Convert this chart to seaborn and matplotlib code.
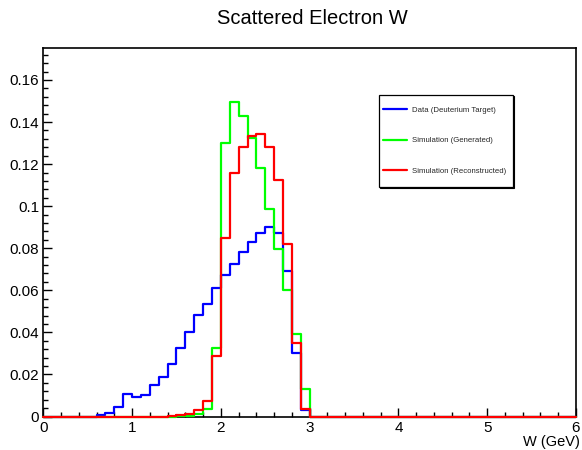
import numpy as np
import pandas as pd
import seaborn as sns
import matplotlib
matplotlib.use("Agg")
import matplotlib.pyplot as plt
from matplotlib.patches import Rectangle
from matplotlib.ticker import MultipleLocator, FixedLocator
import matplotlib.transforms as mtransforms

# ---- data (normalised W distributions, bin width 0.1 GeV) ----
n_bins = 60
w_min, w_max = 0.0, 6.0
bin_width = 0.1

data_first_bin = 6        # W = 0.6 GeV
data_values = [0.0005, 0.0016, 0.0044, 0.0108, 0.0092, 0.0100, 0.0151, 0.0187,
               0.0248, 0.0327, 0.0402, 0.0484, 0.0537, 0.0613, 0.0671, 0.0723,
               0.0780, 0.0828, 0.0874, 0.0900, 0.0874, 0.0690, 0.0302, 0.0032]

gen_first_bin = 15        # W = 1.5 GeV
gen_values = [0.0002, 0.0004, 0.0010, 0.0037, 0.0325, 0.1298, 0.1497, 0.1430,
              0.1322, 0.1183, 0.0988, 0.0794, 0.0603, 0.0390, 0.0129]

rec_first_bin = 14        # W = 1.4 GeV
rec_values = [0.0003, 0.0006, 0.0013, 0.0029, 0.0076, 0.0290, 0.0851, 0.1160,
              0.1283, 0.1335, 0.1341, 0.1280, 0.1124, 0.0819, 0.0351, 0.0037]

labels = ["Data (Deuterium Target)", "Simulation (Generated)", "Simulation (Reconstructed)"]
colors = ["#0000ff", "#00ff00", "#ff0000"]

x_ticks = [0, 1, 2, 3, 4, 5, 6]
y_ticks = [0, 0.02, 0.04, 0.06, 0.08, 0.1, 0.12, 0.14, 0.16]
y_tick_labels = ["0", "0.02", "0.04", "0.06", "0.08", "0.1", "0.12", "0.14", "0.16"]

# ---- build histogram table ----
centers = w_min + bin_width * (np.arange(n_bins) + 0.5)

def full(first, vals):
    arr = np.zeros(n_bins)
    arr[first:first + len(vals)] = vals
    return arr

series = {
    labels[0]: full(data_first_bin, data_values),
    labels[1]: full(gen_first_bin, gen_values),
    labels[2]: full(rec_first_bin, rec_values),
}
df = pd.concat([pd.DataFrame({"W": centers, "weight": v, "sample": k})
                for k, v in series.items()], ignore_index=True)

# ---- style ----
sns.set_theme(style="white")
plt.rcParams["font.family"] = ["Liberation Sans", "DejaVu Sans"]

fig = plt.figure(figsize=(5.82, 4.5), dpi=100)
ax = fig.add_axes([43.3 / 582, 1 - 416.5 / 450, (576 - 43.3) / 582, (416.5 - 48) / 450])

handles = []
for i, (lab, col) in enumerate(zip(labels, colors)):
    sub = df[df["sample"] == lab]
    sns.histplot(data=sub, x="W", weights="weight", binwidth=bin_width,
                 binrange=(w_min, w_max), element="step",
                 fill=False, color=col, linewidth=1.6, ax=ax)
    ln = ax.lines[-1]
    ln.set_zorder(3 + i * 0.1)
    ln.set_clip_on(False)
    handles.append(ln)

ax.set_xlim(w_min, w_max)
ax.set_ylim(0, 0.1752)
ax.xaxis.set_major_locator(FixedLocator(x_ticks))
ax.xaxis.set_minor_locator(MultipleLocator(0.2))
ax.yaxis.set_major_locator(FixedLocator(y_ticks))
ax.set_yticklabels(y_tick_labels)
ax.yaxis.set_minor_locator(MultipleLocator(0.004))
ax.tick_params(which="both", direction="in", top=False, right=False,
               bottom=True, left=True,
               labelsize=11, colors="black", width=1.0)
ax.tick_params(which="major", length=6.5, pad=3)
ax.tick_params(which="minor", length=3.6)
for s in ax.spines.values():
    s.set_color("black")
    s.set_linewidth(1.2)

ax.set_ylabel("")
ax.set_xlabel("W (GeV)", fontsize=10.5, color="black", ha="right")
ax.xaxis.set_label_coords((580 - 43.3) / 532.7, (416.5 - 435) / 368.5)

fig.text(312.5 / 582, 1 - 18 / 450, "Scattered Electron W", ha="center", va="center",
         fontsize=14.5, color="black")

# ---- legend (ROOT-style box with shadow) ----
x0, x1 = (379.3 - 43.3) / 532.7, (512.7 - 43.3) / 532.7
y0, y1 = (416.5 - 186.7) / 368.5, (416.5 - 95) / 368.5
shadow_tr = mtransforms.offset_copy(ax.transAxes, fig=fig, x=0.8, y=-0.8, units="points")
ax.add_patch(Rectangle((x0, y0), x1 - x0, y1 - y0, transform=shadow_tr,
                       facecolor="black", edgecolor="black", lw=0.8, zorder=5, clip_on=False))
ax.add_patch(Rectangle((x0, y0), x1 - x0, y1 - y0, transform=ax.transAxes,
                       facecolor="white", edgecolor="black", lw=0.9, zorder=6, clip_on=False))
leg = ax.legend(handles, labels, loc="center left",
                bbox_to_anchor=((383.3 - 43.3) / 532.7, (416.5 - 140.7) / 368.5),
                frameon=False, fontsize=5.6, borderpad=0, borderaxespad=0,
                handlelength=3.0, handletextpad=0.65, labelspacing=2.98)
leg.set_zorder(7)

fig.savefig("out.png", dpi=100)
